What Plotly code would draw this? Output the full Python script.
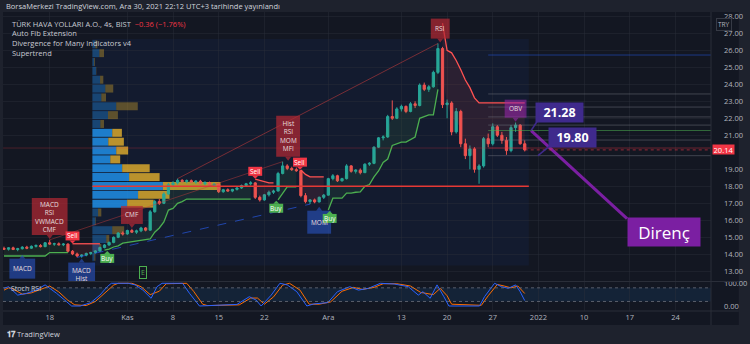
import plotly.graph_objects as go

# ---------------- data: THYAO 4h bars, 11 Oct - 30 Dec 2021 ----------------
opens = [14.35, 14.30, 14.38, 14.28, 14.33, 14.42, 14.36, 14.47, 14.52, 14.45,
         14.68, 14.60, 14.62, 14.56, 14.60, 14.18, 14.02, 13.90, 13.95, 14.05,
         14.10, 14.20, 14.40, 14.55, 14.70, 15.00, 15.25, 15.20, 15.40, 15.30,
         15.38, 15.55, 15.42, 16.50, 17.10, 17.00, 17.55, 18.10, 18.20, 18.35,
         18.28, 18.33, 18.25, 18.30, 18.15, 18.22, 18.05, 18.12, 17.68, 17.80,
         17.72, 17.82, 17.90, 18.05, 18.15, 18.20, 17.35, 17.20, 17.50, 17.65,
         17.72, 18.75, 19.20, 19.05, 18.98, 18.92, 17.45, 17.10, 17.20, 17.08,
         17.35, 17.48, 18.45, 18.62, 18.32, 18.45, 19.20, 18.88, 18.95, 18.80,
         19.30, 19.35, 20.30, 20.85, 20.90, 22.10, 22.00, 22.55, 22.70, 22.40,
         22.85, 22.75, 23.95, 23.70, 23.85, 24.70, 26.10, 22.80, 22.90, 21.20,
         22.40, 20.50, 19.80, 20.20, 19.00, 19.20, 20.80, 20.50, 21.50, 21.00,
         20.70, 20.10, 21.45, 21.60, 20.50]
highs = [14.45, 14.42, 14.45, 14.38, 14.48, 14.50, 14.52, 14.58, 14.60, 14.72,
         14.85, 14.68, 14.70, 14.66, 14.65, 14.25, 14.10, 14.00, 14.10, 14.15,
         14.25, 14.45, 14.60, 14.75, 15.05, 15.30, 15.35, 15.45, 15.50, 15.45,
         15.62, 15.60, 16.60, 17.20, 17.25, 17.65, 18.20, 18.30, 18.45, 18.42,
         18.40, 18.40, 18.35, 18.38, 18.30, 18.28, 18.20, 18.15, 17.85, 17.88,
         17.85, 17.95, 18.10, 18.20, 18.30, 18.25, 17.45, 17.55, 17.75, 17.80,
         18.85, 19.45, 19.30, 19.15, 19.10, 18.95, 17.60, 17.25, 17.28, 17.40,
         17.55, 18.50, 18.72, 18.68, 18.50, 19.30, 19.25, 19.00, 19.05, 19.35,
         19.42, 20.35, 20.90, 21.00, 22.20, 23.05, 22.65, 22.80, 22.75, 22.95,
         23.00, 24.05, 24.10, 23.95, 24.80, 26.40, 26.20, 23.10, 23.00, 22.60,
         22.50, 20.80, 20.40, 20.30, 19.30, 20.90, 21.10, 21.70, 21.60, 21.20,
         20.90, 21.60, 21.75, 21.65, 20.70]
lows = [14.25, 14.22, 14.25, 14.18, 14.28, 14.30, 14.32, 14.40, 14.40, 14.42,
        14.55, 14.50, 14.52, 14.48, 14.10, 13.95, 13.82, 13.80, 13.88, 13.95,
        14.05, 14.15, 14.35, 14.50, 14.65, 14.95, 15.10, 15.15, 15.25, 15.20,
        15.30, 15.35, 15.40, 16.45, 16.90, 16.95, 17.50, 17.95, 18.10, 18.20,
        18.18, 18.20, 18.15, 18.10, 18.05, 18.00, 17.98, 17.60, 17.62, 17.68,
        17.65, 17.75, 17.85, 17.98, 18.05, 17.25, 17.10, 17.15, 17.40, 17.55,
        17.70, 18.70, 18.95, 18.90, 18.85, 17.35, 17.00, 16.95, 17.00, 17.05,
        17.25, 17.45, 18.35, 18.25, 18.28, 18.40, 18.80, 18.75, 18.70, 18.78,
        19.20, 19.30, 20.25, 20.70, 20.85, 21.90, 21.95, 22.40, 22.30, 22.35,
        22.60, 22.70, 23.60, 23.55, 23.80, 24.60, 22.60, 22.00, 21.00, 21.10,
        20.30, 19.60, 19.00, 18.80, 18.15, 19.10, 20.30, 20.40, 20.90, 20.50,
        19.85, 20.00, 21.20, 20.45, 20.05]
closes = [14.30, 14.38, 14.28, 14.33, 14.42, 14.36, 14.47, 14.52, 14.45, 14.68,
          14.60, 14.62, 14.56, 14.60, 14.18, 14.02, 13.90, 13.95, 14.05, 14.10,
          14.20, 14.40, 14.55, 14.70, 15.00, 15.25, 15.20, 15.40, 15.30, 15.38,
          15.55, 15.42, 16.50, 17.10, 17.00, 17.55, 18.10, 18.20, 18.35, 18.28,
          18.33, 18.25, 18.30, 18.15, 18.22, 18.05, 18.12, 17.68, 17.80, 17.72,
          17.82, 17.90, 18.05, 18.15, 18.20, 17.35, 17.20, 17.50, 17.65, 17.72,
          18.75, 19.20, 19.05, 18.98, 18.92, 17.45, 17.10, 17.20, 17.08, 17.35,
          17.48, 18.45, 18.62, 18.32, 18.45, 19.20, 18.88, 18.95, 18.80, 19.30,
          19.35, 20.30, 20.85, 20.90, 22.10, 22.00, 22.55, 22.70, 22.40, 22.85,
          22.75, 23.95, 23.70, 23.85, 24.70, 26.10, 22.80, 22.90, 21.20, 22.40,
          20.50, 19.80, 20.20, 19.00, 19.20, 20.80, 20.50, 21.50, 21.00, 20.70,
          20.10, 21.45, 21.60, 20.50, 20.14]

# Supertrend value and direction (1 = up / green, -1 = down / red)
supertrend = [13.90] * 10 + [14.10] * 5 + [14.62] * 7 + \
    [14.25, 14.30, 14.43, 14.50, 14.66, 14.70, 14.75, 14.80, 14.84, 14.84,
     14.90, 15.30, 15.55, 15.90, 16.60, 16.70, 17.00, 17.10] + [17.25] * 15 + \
    [18.42, 18.35, 18.25, 18.20, 18.20] + \
    [17.20, 17.60, 17.96, 17.96, 17.96] + \
    [18.96, 18.70, 18.55, 18.55, 18.55, 18.55] + \
    [16.60, 17.30, 17.30, 17.30, 17.60, 17.60, 17.65, 17.67, 18.00, 18.10,
     18.55, 18.90, 19.40, 19.60, 20.40, 20.50, 20.60, 20.60, 20.75, 20.90,
     22.00, 22.10, 22.20, 22.20, 23.70] + \
    [27.60, 26.00, 25.85, 25.40, 24.85, 24.25, 23.80, 23.20, 22.90] + [22.90] * 10
st_dir = [1] * 15 + [-1] * 7 + [1] * 33 + [-1] * 5 + [1] * 5 + [-1] * 6 + [1] * 25 + [-1] * 19

# Stoch RSI (%K blue, %D orange) read at bar positions
k_bars = [0, 1, 3, 5, 7, 9, 10, 11.5, 13.7, 14.8, 16.7, 19, 21, 22.6, 23.5, 27.2, 28.7,
          30.4, 32.2, 33.5, 34.6, 39.1, 40.6, 42.8, 51, 53.7, 55.2, 56.3, 58.5, 60.4,
          62, 64.1, 66.3, 67.8, 70.9, 73, 75.7, 77.6, 79.8, 82.4, 85.4, 88.5, 90.7,
          91.7, 93.3, 94.8, 96.3, 97.4, 104.1, 105.2, 107.4, 108.9, 110.4, 112, 113, 114]
k_vals = [78, 85, 48, 56, 70, 93, 78, 56, 19, 0, 0, 15, 48, 85, 100, 100, 93,
          70, 34, 85, 100, 100, 56, 0, 7, 41, 26, 0, 48, 100,
          93, 63, 0, 9, 15, 63, 85, 70, 78, 100, 97, 85, 48,
          63, 34, 93, 41, 0, 0, 41, 100, 85, 78, 93, 63, 24]
d_bars = [0, 1, 2, 4, 6, 8, 10, 12, 14, 15.5, 18, 20, 22, 24, 25, 28, 30, 32, 34,
          35.5, 40, 41.5, 43.5, 44.5, 51.5, 54, 55.5, 57, 59, 61, 62.5, 64.8, 66.8,
          69, 71.5, 74, 76.5, 78.5, 81, 83, 86, 89, 91.2, 92.5, 94, 95.5, 97, 98,
          104.5, 106, 108, 109.5, 111, 112.5, 114]
d_vals = [70, 80, 75, 52, 58, 72, 88, 62, 25, 5, 2, 20, 55, 92, 100, 100, 85, 50, 65,
          98, 100, 65, 8, 2, 5, 35, 35, 8, 40, 92, 100, 70, 8,
          8, 18, 65, 82, 73, 82, 98, 98, 88, 60, 55, 50, 78, 45, 8,
          3, 45, 95, 88, 80, 88, 55]

# Visible-range volume profile, 25 rows from top (26.35) down, relative volume
vp_top_price = 26.35
vp_row_step = 0.5206
vp_up = [3, 7, 1.7, 3.7, 7.7, 13, 9, 24, 15.7, 8, 20, 16, 24, 18, 30, 37, 71, 46, 35,
         5.7, 3, 20, 14, 7, 2]
vp_down = [2, 4.7, 0.8, 0.3, 3.3, 8, 4.7, 21.7, 10, 3.7, 9.7, 15.7, 12, 10, 27.7, 30.7,
           58, 31.7, 26.7, 3.3, 0.5, 12, 3, 2, 1]
vp_value_area = range(10, 19)

# price levels
support_level = 18.00
fib_levels = [23.43, 22.66, 22.08, 21.60, 21.28, 20.72, 20.25, 19.80]
fib_top = 25.72
last_price = 20.14
callout_prices = [21.28, 19.80]
price_ticks = [13, 14, 15, 16, 17, 18, 19, 21, 22, 23, 24, 25, 26, 27, 28]
earnings_bar = 30.5

date_ticks = [10, 27, 37, 47, 57, 71, 87, 97, 107, 117, 127, 137, 147]
date_text = ['18', 'Kas', '8', '15', '22', 'Ara', '13', '20', '27', '2022', '10', '17', '24']

# ---------------- layout geometry ----------------
W, H = 750, 344
ML, MR, MT, MB = 3, 34, 12, 33
PW, PH = W - ML - MR, H - MT - MB
X_RANGE = [-0.22, 154.78]
Y_RANGE = [12.43, 28.25]
MAIN_DOM = [30 / PH, 1.0]
STOCH_DOM = [0.0, 29 / PH]
STOCH_RANGE = [-22.0, 105.7]

PX_BAR = PW / (X_RANGE[1] - X_RANGE[0])
PX_PRICE = PH * (MAIN_DOM[1] - MAIN_DOM[0]) / (Y_RANGE[1] - Y_RANGE[0])


def bx(px):
    return px / PX_BAR


def py(px):
    return px / PX_PRICE


def paper_x(X):
    return (X - ML) / PW


def paper_y(Y):
    return (H - MB - Y) / PH


BG = '#131722'
FRAME = '#1e222d'
TXT = '#b2b5be'
FONT = 'Open Sans'
GREEN = '#26a69a'
RED = '#ef5350'

fig = go.Figure()
shapes = []
annotations = []

# chart widget background and the highlighted profile range
shapes.append(dict(type='rect', xref='paper', yref='paper', x0=paper_x(3), x1=paper_x(744),
                   y0=paper_y(325), y1=paper_y(12), fillcolor=BG, line_width=0, layer='below'))
shapes.append(dict(type='rect', xref='x', yref='y', x0=19.3, x1=114.9,
                   y0=vp_top_price + vp_row_step / 2 + 0.05,
                   y1=vp_top_price - 24 * vp_row_step - vp_row_step / 2 - 0.25,
                   fillcolor='rgba(41,98,255,0.06)', line_width=0, layer='below'))

# ---------------- volume profile ----------------
VP_LEFT = 19.35
row_prices = [vp_top_price - i * vp_row_step for i in range(len(vp_up))]
up_w = [bx(v) for v in vp_up]
dn_w = [bx(v) for v in vp_down]
up_col = ['rgba(33,150,243,0.80)' if i in vp_value_area else 'rgba(33,150,243,0.35)'
          for i in range(len(vp_up))]
dn_col = ['rgba(251,192,45,0.72)' if i in vp_value_area else 'rgba(251,192,45,0.32)'
          for i in range(len(vp_up))]
fig.add_trace(go.Bar(orientation='h', y=row_prices, x=up_w, base=[VP_LEFT] * len(up_w),
                     width=vp_row_step * 0.9, marker=dict(color=up_col, line_width=0),
                     hoverinfo='skip', showlegend=False))
fig.add_trace(go.Bar(orientation='h', y=row_prices, x=dn_w,
                     base=[VP_LEFT + w for w in up_w], width=vp_row_step * 0.9,
                     marker=dict(color=dn_col, line_width=0), hoverinfo='skip', showlegend=False))

# ---------------- fib extension levels (right side) ----------------
fib_colors = ['rgba(120,123,134,0.45)', 'rgba(120,123,134,0.45)', 'rgba(120,123,134,0.45)',
              'rgba(120,123,134,0.45)', 'rgba(76,175,80,0.55)', 'rgba(120,123,134,0.45)',
              'rgba(242,54,69,0.40)', 'rgba(120,123,134,0.45)']
for lvl, col in zip(fib_levels, fib_colors):
    shapes.append(dict(type='line', xref='x', yref='y', x0=106, x1=X_RANGE[1], y0=lvl, y1=lvl,
                       line=dict(color=col, width=1)))
shapes.append(dict(type='line', xref='x', yref='y', x0=106, x1=X_RANGE[1], y0=fib_top, y1=fib_top,
                   line=dict(color='rgba(41,98,255,0.45)', width=1)))
shapes.append(dict(type='line', xref='x', yref='y', x0=-0.2, x1=114.9, y0=20.25, y1=20.25,
                   line=dict(color='rgba(242,54,69,0.25)', width=1)))

# ---------------- supertrend with fills ----------------
idx = list(range(len(closes)))
mid = [(o + c) / 2 for o, c in zip(opens, closes)]
segs = []
start = 0
for i in range(1, len(st_dir) + 1):
    if i == len(st_dir) or st_dir[i] != st_dir[start]:
        segs.append((start, i))
        start = i
for s, e in segs:
    up = st_dir[s] == 1
    xs = idx[s:e]
    fig.add_trace(go.Scatter(x=xs, y=mid[s:e], mode='lines', line=dict(width=0),
                             hoverinfo='skip', showlegend=False))
    fig.add_trace(go.Scatter(x=xs, y=supertrend[s:e], mode='lines',
                             line=dict(color='#4caf50' if up else '#ff5252', width=1.3),
                             fill='tonexty',
                             fillcolor='rgba(76,175,80,0.10)' if up else 'rgba(255,82,82,0.10)',
                             hoverinfo='skip', showlegend=False))

# support line
fig.add_trace(go.Scatter(x=[VP_LEFT, 114.9], y=[support_level, support_level], mode='lines',
                         line=dict(color='#e53935', width=1.5), hoverinfo='skip', showlegend=False))

# divergence lines
fig.add_trace(go.Scatter(x=[38, 95], y=[highs[38], highs[95]], mode='lines',
                         line=dict(color='rgba(200,60,60,0.55)', width=1),
                         hoverinfo='skip', showlegend=False))
fig.add_trace(go.Scatter(x=[10, 61], y=[highs[10], highs[61]], mode='lines',
                         line=dict(color='rgba(200,60,60,0.45)', width=1),
                         hoverinfo='skip', showlegend=False))
fig.add_trace(go.Scatter(x=[16, 67], y=[lows[16], lows[67]], mode='lines',
                         line=dict(color='rgba(41,98,255,0.6)', width=1, dash='dash'),
                         hoverinfo='skip', showlegend=False))

# ---------------- candles ----------------
fig.add_trace(go.Candlestick(x=idx, open=opens, high=highs, low=lows, close=closes,
                             increasing=dict(line=dict(color=GREEN, width=1), fillcolor=GREEN),
                             decreasing=dict(line=dict(color=RED, width=1), fillcolor=RED),
                             whiskerwidth=0, hoverinfo='skip', showlegend=False))

# last price line
shapes.append(dict(type='line', xref='x', yref='y', x0=114, x1=X_RANGE[1], y0=last_price,
                   y1=last_price, line=dict(color='rgba(242,54,69,0.6)', width=1, dash='dot')))

# ---------------- stoch RSI ----------------
fig.add_trace(go.Scatter(x=d_bars, y=d_vals, xaxis='x2', yaxis='y2', mode='lines',
                         line=dict(color='#ff6d00', width=1), hoverinfo='skip', showlegend=False))
fig.add_trace(go.Scatter(x=k_bars, y=k_vals, xaxis='x2', yaxis='y2', mode='lines',
                         line=dict(color='#2962ff', width=1), hoverinfo='skip', showlegend=False))
shapes.append(dict(type='rect', xref='x2', yref='y2', x0=X_RANGE[0], x1=X_RANGE[1], y0=20, y1=80,
                   fillcolor='rgba(33,150,243,0.10)', line_width=0, layer='below'))
for lv in (20, 80):
    shapes.append(dict(type='line', xref='x2', yref='y2', x0=X_RANGE[0], x1=X_RANGE[1], y0=lv,
                       y1=lv, line=dict(color='rgba(120,123,134,0.7)', width=1, dash='dot')))


# ---------------- indicator tags ----------------
def tag(xb, yp, text, fill, w, h, point='down', fs=6.5, color='#e6dede', tri=4):
    half_w = bx(w) / 2
    if point == 'down':
        y_b = yp + py(tri)
        y_t = y_b + py(h)
        tri_path = f'M {xb - bx(3)} {y_b} L {xb + bx(3)} {y_b} L {xb} {yp} Z'
    else:
        y_t = yp - py(tri)
        y_b = y_t - py(h)
        tri_path = f'M {xb - bx(3)} {y_t} L {xb + bx(3)} {y_t} L {xb} {yp} Z'
    shapes.append(dict(type='rect', xref='x', yref='y', x0=xb - half_w, x1=xb + half_w,
                       y0=y_b, y1=y_t, fillcolor=fill, line_width=0))
    shapes.append(dict(type='path', xref='x', yref='y', path=tri_path, fillcolor=fill,
                       line_width=0))
    annotations.append(dict(x=xb, y=(y_b + y_t) / 2, xref='x', yref='y', text=text,
                            showarrow=False, font=dict(family=FONT, size=fs, color=color),
                            align='center'))


DIV_RED = 'rgba(178,40,51,0.72)'
DIV_BLUE = 'rgba(41,82,190,0.62)'
tag(10, highs[10] + 0.05, 'MACD<br>RSI<br>VWMACD<br>CMF', DIV_RED, 36, 37)
tag(28, highs[28] + 0.05, 'CMF', DIV_RED, 22, 18)
tag(62.2, highs[61] + 0.05, 'Hist<br>RSI<br>MOM<br>MFI', DIV_RED, 24, 41)
tag(95.5, highs[95] + 0.05, 'RSI', DIV_RED, 19, 20)
tag(112, highs[112] + 0.05, 'OBV', 'rgba(156,39,176,0.55)', 22, 18)
tag(4, lows[4] - 0.3, 'MACD', DIV_BLUE, 26, 20, point='up')
tag(17, lows[17] - 0.05, 'MACD<br>Hist', DIV_BLUE, 27, 24, point='up')
tag(69, lows[69] - 0.25, 'MOM', DIV_BLUE, 24, 23, point='up')

# supertrend signals
tag(15, supertrend[15] + 0.02, 'Sell', '#f23645', 14, 9, fs=6.5, color='white', tri=3)
tag(22.6, supertrend[22] - 0.05, 'Buy', '#4caf50', 14, 9, point='up', fs=6.5, color='white', tri=3)
tag(55, supertrend[55] + 0.02, 'Sell', '#f23645', 14, 9, fs=6.5, color='white', tri=3)
tag(64.8, supertrend[65] + 0.02, 'Sell', '#f23645', 14, 9, fs=6.5, color='white', tri=3)
tag(59.6, supertrend[60] - 0.05, 'Buy', '#4caf50', 14, 9, point='up', fs=6.5, color='white', tri=3)
tag(71.3, supertrend[71] - 0.05, 'Buy', '#4caf50', 14, 9, point='up', fs=6.5, color='white', tri=3)

# earnings marker, pinned to the bottom edge of the price pane
annotations.append(dict(x=earnings_bar, y=paper_y(272), xref='x', yref='paper', text='E',
                        showarrow=False, yanchor='middle',
                        font=dict(family=FONT, size=7, color='#4caf50'),
                        bordercolor='#4caf50', borderwidth=1, borderpad=1))

# ---------------- purple callouts ----------------
tip1 = (115.4, callout_prices[0])
tip2 = (116.9, callout_prices[1])
fig.add_trace(go.Scatter(x=[tip1[0], 136.4], y=[tip1[1], tip1[1] - py(88)], mode='lines',
                         line=dict(color='#7b1fa2', width=3), hoverinfo='skip', showlegend=False))
shapes.append(dict(type='line', xref='x', yref='y', x0=tip1[0], y0=tip1[1],
                   x1=tip1[0] + bx(6), y1=tip1[1] + py(9), line=dict(color='#3f2a8c', width=1.5)))
shapes.append(dict(type='line', xref='x', yref='y', x0=tip2[0], y0=tip2[1],
                   x1=tip2[0] + bx(11), y1=tip2[1] + py(9), line=dict(color='#3f2a8c', width=1.5)))
for (tx, tp), dxp, txt in ((tip1, 29, '21.28'), (tip2, 35, '19.80')):
    annotations.append(dict(x=tx + bx(dxp), y=tp + py(18.5), xref='x', yref='y',
                            text=f'<b>{txt}</b>', showarrow=False, bgcolor='#3f2a8c',
                            font=dict(family=FONT, size=12.5, color='white'),
                            borderpad=2, width=43, height=15))
annotations.append(dict(x=136.4 + bx(37), y=tip1[1] - py(101), xref='x', yref='y',
                        text='Direnç', showarrow=False, bgcolor='#7b1fa2',
                        font=dict(family=FONT, size=17, color='white'), width=68, height=24,
                        borderpad=2))

# ---------------- header / legend texts ----------------
annotations.append(dict(x=paper_x(4), y=paper_y(6.5), xref='paper', yref='paper',
                        xanchor='left', yanchor='middle', showarrow=False,
                        text='BorsaMerkezi TradingView.com, Ara 30, 2021 22:12 UTC+3 tarihinde yayınlandı',
                        font=dict(family=FONT, size=7.5, color='#d1d4dc')))
legend_lines = [
    ('TÜRK HAVA YOLLARI A.O., 4s, BIST  <span style="color:#f23645">−0.36 (−1.76%)</span>', 24),
    ('Auto Fib Extension', 33.5),
    ('Divergence for Many Indicators v4', 43),
    ('Supertrend', 52.5),
]
for txt, yy in legend_lines:
    annotations.append(dict(x=paper_x(10), y=paper_y(yy), xref='paper', yref='paper',
                            xanchor='left', yanchor='middle', showarrow=False, text=txt,
                            font=dict(family=FONT, size=7.5, color='#c8cad2')))
annotations.append(dict(x=paper_x(9), y=paper_y(288.5), xref='paper', yref='paper',
                        xanchor='left', yanchor='middle', showarrow=False, text='Stoch RSI',
                        font=dict(family=FONT, size=7, color='#c8cad2')))
annotations.append(dict(x=paper_x(5), y=paper_y(334), xref='paper', yref='paper',
                        xanchor='left', yanchor='middle', showarrow=False,
                        text='<b>𝟏𝟕</b> TradingView',
                        font=dict(family=FONT, size=7.5, color='#d1d4dc')))

# price axis badges
annotations.append(dict(x=paper_x(729), y=last_price, xref='paper', yref='y', xanchor='center',
                        yanchor='middle', showarrow=False, text=f'{last_price:.2f}',
                        bgcolor='#f23645', font=dict(family=FONT, size=7.5, color='white'),
                        width=20, height=8, borderpad=0.5))
annotations.append(dict(x=paper_x(729.5), y=paper_y(25), xref='paper', yref='paper',
                        xanchor='center', yanchor='middle', showarrow=False, text='TRY',
                        bgcolor=BG, bordercolor='#363a45', borderwidth=1,
                        font=dict(family=FONT, size=6.5, color=TXT), borderpad=1))

# separators
shapes.append(dict(type='line', xref='paper', yref='paper', x0=1, x1=1, y0=paper_y(325),
                   y1=paper_y(12), line=dict(color='#2a2e39', width=1)))
shapes.append(dict(type='line', xref='paper', yref='paper', x0=0, x1=paper_x(744),
                   y0=paper_y(281.5), y1=paper_y(281.5), line=dict(color='#2a2e39', width=1)))
shapes.append(dict(type='line', xref='paper', yref='paper', x0=0, x1=paper_x(744),
                   y0=0, y1=0, line=dict(color='#2a2e39', width=1)))

grid = 'rgba(42,46,57,0.45)'
fig.update_layout(
    width=W, height=H, margin=dict(l=ML, r=MR, t=MT, b=MB),
    paper_bgcolor=FRAME, plot_bgcolor='rgba(0,0,0,0)',
    barmode='overlay', showlegend=False,
    shapes=shapes, annotations=annotations,
    font=dict(family=FONT, size=7.5, color=TXT),
    xaxis=dict(domain=[0, 1], range=X_RANGE, anchor='y', showticklabels=False,
               tickvals=date_ticks, showgrid=True, gridcolor=grid, zeroline=False,
               rangeslider=dict(visible=False), fixedrange=True),
    yaxis=dict(domain=MAIN_DOM, range=Y_RANGE, side='right', anchor='x',
               tickvals=price_ticks, tickformat='.2f', showgrid=True, gridcolor=grid,
               zeroline=False, ticks='', ticklabelstandoff=12,
               tickfont=dict(size=7.5, color=TXT)),
    xaxis2=dict(domain=[0, 1], range=X_RANGE, anchor='y2', matches='x', tickvals=date_ticks,
                ticktext=date_text, showgrid=True, gridcolor=grid, zeroline=False,
                ticks='', tickfont=dict(size=7.5, color=TXT)),
    yaxis2=dict(domain=STOCH_DOM, range=STOCH_RANGE, side='right', anchor='x2',
                tickvals=[0, 100], ticktext=['0.00', '100.00'], showgrid=False,
                zeroline=False, ticks='', ticklabelstandoff=12,
                tickfont=dict(size=7.5, color=TXT)),
)

fig.write_html('out.html')
